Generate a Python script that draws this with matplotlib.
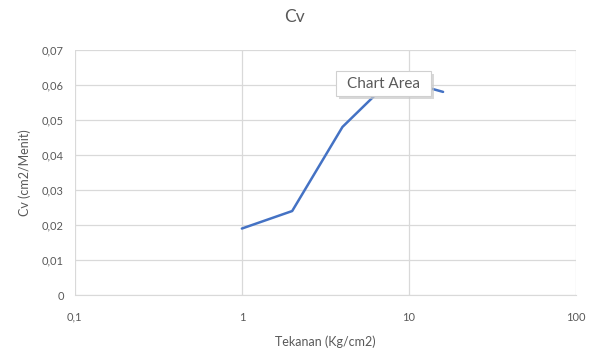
import matplotlib

matplotlib.use("Agg")
import matplotlib.pyplot as plt
from matplotlib.patches import FancyBboxPatch
from matplotlib.ticker import FixedLocator, FuncFormatter

# data
tekanan = [1, 2, 4, 8, 16]
cv = [0.019, 0.024, 0.048, 0.062, 0.058]
x_ticks = [0.1, 1, 10, 100]
x_labels = ["0,1", "1", "10", "100"]
y_ticks = [0, 0.01, 0.02, 0.03, 0.04, 0.05, 0.06, 0.07]

plt.rcParams["font.family"] = ["Lato", "DejaVu Sans"]
txt = "#595959"
grid = "#d9d9d9"

fig = plt.figure(figsize=(5.89, 3.56), dpi=100)
ax = fig.add_axes([0.127, 0.171, 0.851, 0.689])

ax.plot(tekanan, cv, color="#4472C4", lw=1.8, solid_capstyle="round")

ax.set_xscale("log")
ax.set_xlim(0.1, 100)
ax.set_ylim(0, 0.07)
ax.xaxis.set_major_locator(FixedLocator(x_ticks))
ax.xaxis.set_minor_locator(FixedLocator([]))
ax.set_xticklabels(x_labels)
ax.set_yticks(y_ticks)
ax.yaxis.set_major_formatter(
    FuncFormatter(lambda v, _: "0" if v == 0 else f"{v:.2f}".replace(".", ","))
)
ax.grid(True, color=grid, lw=0.9)
ax.set_axisbelow(True)
for s in ["top", "right", "left"]:
    ax.spines[s].set_visible(False)
ax.spines["bottom"].set_color(grid)
ax.tick_params(length=0, colors=txt, labelsize=8)
ax.tick_params(axis="x", pad=12)
ax.tick_params(axis="y", pad=8)

ax.set_xlabel("Tekanan (Kg/cm2)", color=txt, fontsize=9, labelpad=9)
ax.set_ylabel("Cv (cm2/Menit)", color=txt, fontsize=9, labelpad=8)
fig.suptitle("Cv", color=txt, fontsize=12.5, y=0.975)

# tooltip visible in the screenshot (with a soft shadow)
x0, y0, w, h = 336 / 589, 1 - 96 / 356, 95 / 589, 25 / 356
fig.patches.append(FancyBboxPatch((x0 + 0.005, y0 - 0.008), w, h, boxstyle="square,pad=0",
                                  transform=fig.transFigure, fc="#c8c8c8", ec="none", alpha=0.7))
fig.patches.append(FancyBboxPatch((x0, y0), w, h, boxstyle="square,pad=0",
                                  transform=fig.transFigure, fc="white", ec="#d0d0d0", lw=0.8))
fig.text(x0 + w / 2, y0 + h / 2, "Chart Area", color=txt, fontsize=11, ha="center", va="center")

fig.savefig("out.png", dpi=100)
